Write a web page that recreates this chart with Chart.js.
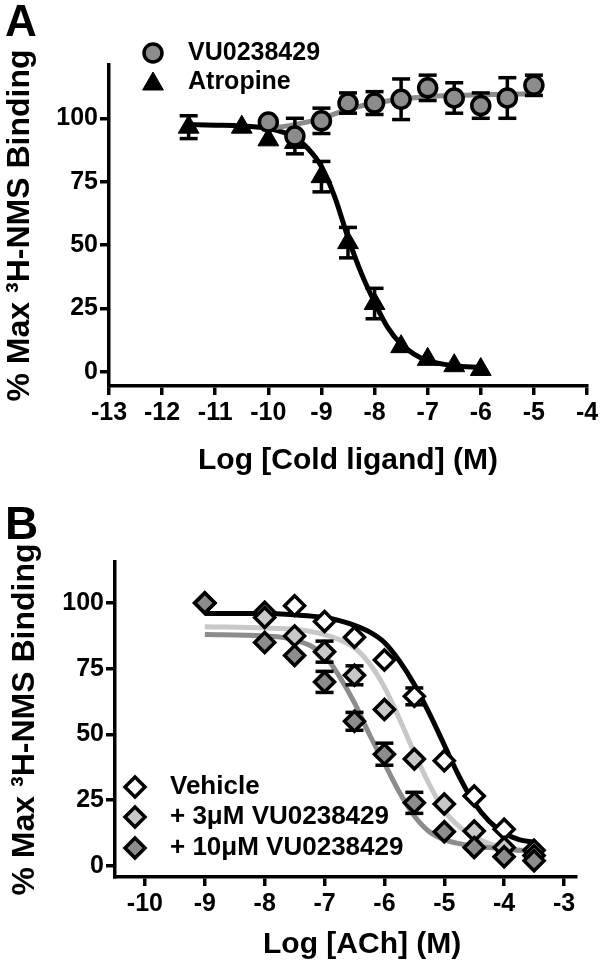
<!DOCTYPE html>
<html><head><meta charset="utf-8">
<script src="https://cdn.jsdelivr.net/npm/chart.js@4.4.1/dist/chart.umd.min.js"></script>
<style>
html,body{margin:0;padding:0;background:#fff;}
#wrap{position:relative;width:600px;height:968px;overflow:hidden;background:#fff;}
canvas{position:absolute;left:0;}
#cA{top:0}
#cB{top:484px}
</style></head><body>
<div id="wrap"><canvas id="cA" width="600" height="484" style="width:600px;height:484px"></canvas><canvas id="cB" width="600" height="484" style="width:600px;height:484px"></canvas></div>
<script>
// ---------- Panel A data ----------
const aTicksX = [-13,-12,-11,-10,-9,-8,-7,-6,-5,-4];
const aTicksY = [0,25,50,75,100];
const atrLogX = [-11.5,-10.5,-10,-9.5,-9,-8.5,-8,-7.5,-7,-6.5,-6];
const atrVal  = [96.5,96.5,91.5,90.5,77,51,27,10,5,2.5,1];
const atrErr  = [4.5,0,0,0,6,6,6,0,0,0,0];
const vuLogX  = [-10,-9.5,-9,-8.5,-8,-7.5,-7,-6.5,-6,-5.5,-5];
const vuVal   = [98.5,93,99,106,106,107.5,112,108,105,108,113];
const vuErr   = [0,7,5,4,4.5,8,5,6,5,8,4];
const atrFitX = [-11.5,-11,-10.5,-10,-9.5,-9.25,-9,-8.75,-8.5,-8.25,-8,-7.75,-7.5,-7.25,-7,-6.5,-6];
const atrFitY = [97.5,97.3,97,96,92.5,88,81,69,53,39,27.5,17.5,11,7,4.5,2.5,1.8];
const vuFitX  = [-10,-9.5,-9,-8.5,-8,-7.5,-7,-6.5,-6,-5.5,-5];
const vuFitY  = [96,97.5,100,103.5,106,107.5,108.5,109,109.3,109.5,109.6];

// ---------- Panel B data ----------
const bTicksX = [-10,-9,-8,-7,-6,-5,-4,-3];
const bTicksY = [0,25,50,75,100];
const achLogX = [-9,-8,-7.5,-7,-6.5,-6,-5.5,-5,-4.5,-4,-3.5];
const vehVal  = [100,96.5,99,93,87,78.3,64.5,40,26.6,14,6];
const vehErr  = [0,0,0,0,0,0,3.2,0,0,0,0];
const vu3Val  = [100,94.5,87.5,81.5,72.5,59.5,40.7,23.6,13.3,7,4];
const vu3Err  = [0,0,0,4,3.6,0,0,0,0,0,0];
const vu10Val = [100,85,80,70,55,42.5,24,13,7,3.5,2];
const vu10Err = [0,0,0,4,3.4,4.2,4,0,0,0,0];
const bFitX   = [-9,-8,-7.5,-7,-6.75,-6.5,-6.25,-6,-5.75,-5.5,-5.25,-5,-4.75,-4.5,-4.25,-4,-3.75,-3.5];
const vehFitY = [96,96,95.5,94.5,93.3,91.5,89,85,78,69,58,46,34,24,17,12.5,10,9];
const vu3FitY = [91,90.5,90,88,86,83,77,68,56,43,31,21,15,11,8.5,7,6,5.5];
const vu10FitY= [88,87.5,86,80,72,62,50,39,28,19,13,10,8.5,7.5,7,6.5,6,6];

const FONT = "'Liberation Sans', Arial, Helvetica, sans-serif";
const GRAY = '#8c8c8c', LIGHT = '#c8c8c8';

function pts(xs, ys){ return xs.map((x,i)=>({x:x, y:ys[i]})); }
function errData(xs, ys, es){
  const d=[];
  xs.forEach((x,i)=>{ if(es[i]>0){ d.push({x:x,y:ys[i]-es[i]},{x:x,y:ys[i]+es[i]},{x:x,y:null}); } });
  return d;
}
function errSet(xs, ys, es){
  return {data: errData(xs,ys,es), showLine:true, spanGaps:false, borderColor:'#000', borderWidth:3.5,
    pointStyle:'line', pointRadius:9, pointBorderWidth:3.5, pointBorderColor:'#000', pointBackgroundColor:'#000', order:5};
}
function curveSet(xs, ys, color){
  return {data: pts(xs,ys), showLine:true, borderColor:color, borderWidth:5, pointRadius:0,
    cubicInterpolationMode:'monotone', fill:false, order:8};
}
function markSet(xs, ys, style, r, fillc, bw, order){
  return {data: pts(xs,ys), showLine:false, pointStyle:style, pointRadius:r, pointBackgroundColor:fillc,
    pointBorderColor:'#000', pointBorderWidth:bw, order:order};
}

function drawMark(ctx, style, r, fillc, bw, x, y){
  ctx.save();
  ctx.fillStyle = fillc; ctx.strokeStyle = '#000'; ctx.lineWidth = bw;
  if (Chart.helpers && Chart.helpers.drawPoint) {
    Chart.helpers.drawPoint(ctx, {pointStyle:style, radius:r, borderWidth:bw, rotation:0}, x, y);
  } else {
    ctx.beginPath(); ctx.arc(x,y,r,0,Math.PI*2); ctx.fill(); ctx.stroke();
  }
  ctx.restore();
}

function axisCommon(min, max, ticksArr, titleText, isX, fitSize, titlePad){
  return {
    type:'linear', min:min, max:max,
    afterBuildTicks: s => { s.ticks = ticksArr.map(v=>({value:v})); },
    afterFit: s => { if(isX){ s.height = fitSize; } else { s.width = fitSize; } s.paddingLeft=0; s.paddingRight=0; s.paddingTop=0; s.paddingBottom=0; },
    grid:{display:true, drawOnChartArea:false, drawTicks:true, tickLength:9, lineWidth:3.5, color:'#000'},
    border:{display:true, width:3.5, color:'#000'},
    ticks:{color:'#000', font:{family:FONT, size:25, weight:'bold'}, padding: isX?3:2, autoSkip:false, maxRotation:0, callback: v => String(v)},
    title:{display:true, text:titleText, color:'#000', font:{family:FONT, size: isX?30:32, weight:'bold'}, padding: titlePad}
  };
}

const overlayA = {
  id:'overlayA',
  afterDraw(chart){
    const ctx = chart.ctx;
    ctx.save();
    ctx.fillStyle='#000';
    ctx.font = "bold 44px " + FONT; ctx.textBaseline='alphabetic'; ctx.textAlign='left';
    ctx.fillText('A', 5, 36);
    drawMark(ctx,'circle',9,GRAY,3.5,153,53);
    drawMark(ctx,'triangle',12,'#000',1,153,84);
    ctx.fillStyle='#000';
    ctx.font = "bold 25px " + FONT; ctx.textBaseline='middle';
    ctx.fillText('VU0238429', 188, 53);
    ctx.fillText('Atropine', 188, 82);
    ctx.restore();
  }
};
const overlayB = {
  id:'overlayB',
  afterDraw(chart){
    const ctx = chart.ctx;
    ctx.save();
    ctx.fillStyle='#000';
    ctx.font = "bold 46px " + FONT; ctx.textBaseline='alphabetic'; ctx.textAlign='left';
    ctx.fillText('B', 5, 55);
    drawMark(ctx,'rectRot',10,'#fff',3.5,135,303);
    drawMark(ctx,'rectRot',10,LIGHT,3.5,135,333);
    drawMark(ctx,'rectRot',10,GRAY,3.5,135,364);
    ctx.fillStyle='#000';
    ctx.font = "bold 26px " + FONT; ctx.textBaseline='middle';
    ctx.fillText('Vehicle', 170, 303);
    ctx.fillText('+ 3\u03bcM VU0238429', 170, 333);
    ctx.fillText('+ 10\u03bcM VU0238429', 170, 364);
    ctx.restore();
  }
};

const baseOpts = {responsive:false, animation:false, events:[],
  plugins:{legend:{display:false}, tooltip:{enabled:false}}};

new Chart(document.getElementById('cA'), {
  type:'scatter',
  data:{datasets:[
    curveSet(vuFitX, vuFitY, GRAY),
    curveSet(atrFitX, atrFitY, '#000'),
    errSet(atrLogX, atrVal, atrErr),
    errSet(vuLogX, vuVal, vuErr),
    markSet(atrLogX, atrVal, 'triangle', 12, '#000', 1, 2),
    markSet(vuLogX, vuVal, 'circle', 9, GRAY, 3.5, 1)
  ]},
  options:Object.assign({}, baseOpts, {
    layout:{padding:{top:65, right:11, left:0, bottom:0}},
    scales:{
      x: axisCommon(-13, -4, aTicksX, 'Log [Cold ligand] (M)', true, 98, {top:5,bottom:5}),
      y: axisCommon(-5.5, 121, aTicksY, '% Max \u00b3H-NMS Binding', false, 109, {top:1,bottom:0})
    }
  }),
  plugins:[overlayA]
});

new Chart(document.getElementById('cB'), {
  type:'scatter',
  data:{datasets:[
    curveSet(bFitX, vu10FitY, GRAY),
    curveSet(bFitX, vu3FitY, LIGHT),
    curveSet(bFitX, vehFitY, '#000'),
    errSet(achLogX, vehVal, vehErr),
    errSet(achLogX, vu3Val, vu3Err),
    errSet(achLogX, vu10Val, vu10Err),
    markSet(achLogX, vehVal, 'rectRot', 10, '#fff', 3.5, 3),
    markSet(achLogX, vu3Val, 'rectRot', 10, LIGHT, 3.5, 2),
    markSet(achLogX, vu10Val, 'rectRot', 10, GRAY, 3.5, 1)
  ]},
  options:Object.assign({}, baseOpts, {
    layout:{padding:{top:78, right:24, left:0, bottom:0}},
    scales:{
      x: axisCommon(-10.5, -2.8, bTicksX, '    Log [ACh] (M)', true, 91, {top:5,bottom:5}),
      y: axisCommon(-4.2, 115.6, bTicksY, '% Max \u00b3H-NMS Binding', false, 115, {top:6,bottom:0})
    }
  }),
  plugins:[overlayB]
});
</script>
</body></html>
